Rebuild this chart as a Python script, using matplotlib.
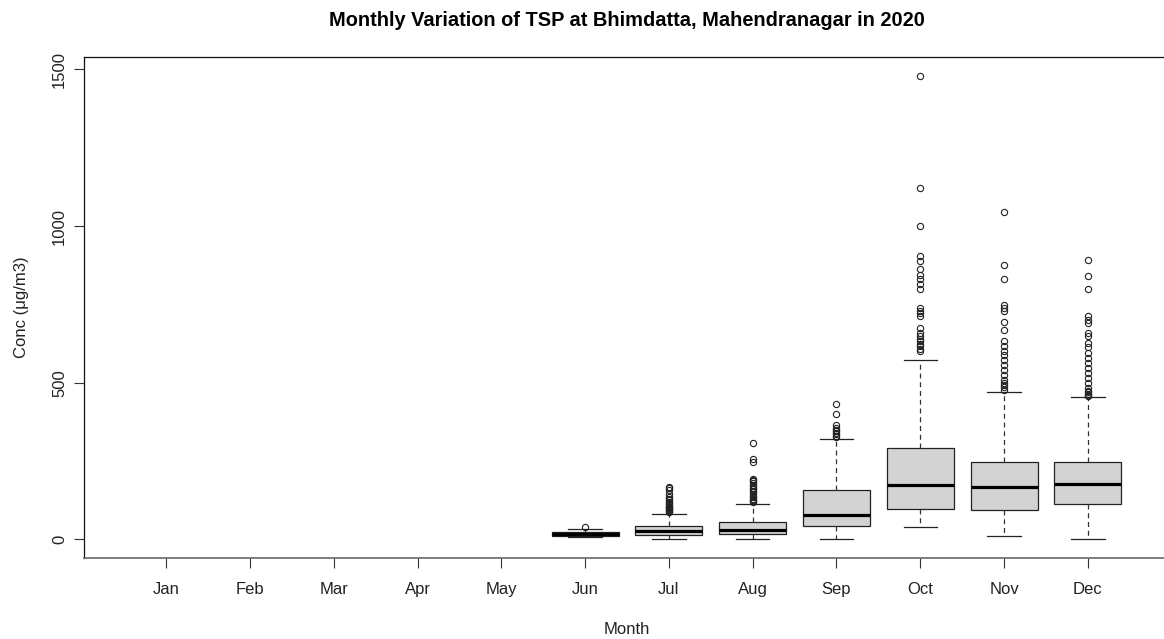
import matplotlib
matplotlib.use("Agg")
import matplotlib.pyplot as plt

months = ["Jan", "Feb", "Mar", "Apr", "May", "Jun", "Jul", "Aug", "Sep", "Oct", "Nov", "Dec"]
data_months = ["Jun", "Jul", "Aug", "Sep", "Oct", "Nov", "Dec"]
q1 = [11, 15, 18, 44, 96, 93, 114]
med = [17, 27, 30, 78, 173, 167, 177]
q3 = [23, 43, 56, 157, 291, 248, 248]
whislo = [8, 2, 2, 2, 39, 12, 0]
whishi = [33, 81, 114, 320, 571, 469, 456]
fliers = [
    [39],
    [88, 90, 93, 96, 99, 102, 105, 108, 112, 116, 120, 125, 130, 136, 146, 158, 163, 168],
    [118, 122, 126, 130, 135, 140, 145, 150, 155, 160, 165, 170, 175, 180, 185, 190, 194, 248, 257, 309],
    [326, 330, 335, 340, 345, 350, 357, 365, 400, 433],
    [600, 608, 616, 625, 632, 640, 648, 660, 675, 712, 723, 730, 739, 800, 815, 830, 845, 862, 889, 905, 1000, 1120, 1480],
    [478, 485, 492, 500, 509, 525, 541, 557, 573, 589, 600, 616, 632, 668, 693, 730, 739, 747, 830, 876, 1045],
    [459, 462, 465, 470, 475, 483, 499, 515, 531, 547, 563, 579, 595, 614, 627, 648, 660, 691, 700, 712, 800, 840, 890],
]
yticks = [0, 500, 1000, 1500]

plt.rcParams['font.family'] = ['Liberation Sans', 'DejaVu Sans']

W, H = 1164, 639
fig = plt.figure(figsize=(W / 100, H / 100), dpi=100)
left, right, top, bottom = 84, 1170, 57, 558
ax = fig.add_axes([left / W, 1 - bottom / H, (right - left) / W, (bottom - top) / H])

stats = []
for i, m in enumerate(data_months):
    stats.append(dict(label=m, med=med[i], q1=q1[i], q3=q3[i],
                      whislo=whislo[i], whishi=whishi[i], fliers=fliers[i]))
positions = [months.index(m) + 1 for m in data_months]

ax.bxp(stats, positions=positions, widths=0.8, capwidths=0.4, patch_artist=True,
       boxprops=dict(facecolor='#d3d3d3', edgecolor='#222222', linewidth=0.9),
       medianprops=dict(color='black', linewidth=2.3, solid_capstyle='butt'),
       whiskerprops=dict(color='#333333', linewidth=0.9, linestyle=(0, (4, 3))),
       capprops=dict(color='#222222', linewidth=0.9),
       flierprops=dict(marker='o', markerfacecolor='none', markeredgecolor='#222222',
                       markersize=4.5, markeredgewidth=0.8))

ax.set_xlim(0.02, 12.98)
ax.set_ylim(-59.2, 1539.2)
ax.set_xticks(range(1, 13))
ax.set_xticklabels(months)
ax.set_yticks(yticks)
ax.set_yticklabels([str(v) for v in yticks], rotation=90, va='center')

ax.tick_params(axis='both', labelsize=12, length=7, width=0.8, colors='#333333',
               labelcolor='#222222')
ax.tick_params(axis='x', pad=10)
ax.tick_params(axis='y', pad=5.3)
for s in ['left', 'top', 'right']:
    ax.spines[s].set_color('#111111')
    ax.spines[s].set_linewidth(0.9)
ax.spines['bottom'].set_color('#666666')
ax.spines['bottom'].set_linewidth(1.2)

ax.set_title("Monthly Variation of TSP at Bhimdatta, Mahendranagar in 2020",
             fontsize=14.4, fontweight='bold', pad=22)
ax.set_xlabel("Month", fontsize=12, color='#222222', labelpad=18)
ax.set_ylabel("Conc (μg/m3)", fontsize=12, color='#222222', labelpad=16.7)

fig.savefig("out.png", dpi=100)
